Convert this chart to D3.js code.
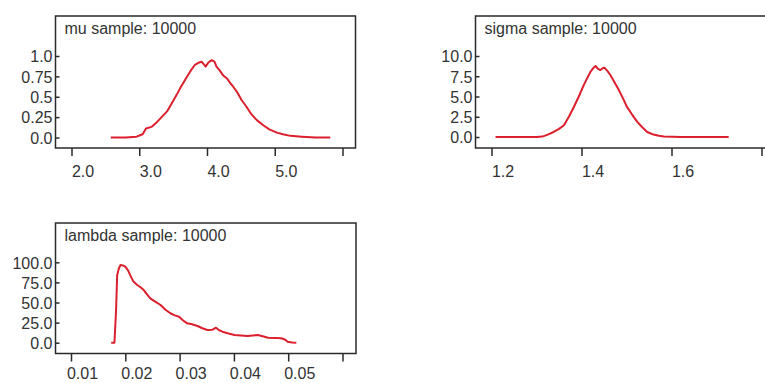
<!DOCTYPE html>
<html>
<head>
<meta charset="utf-8">
<script src="https://cdn.jsdelivr.net/npm/d3@7/dist/d3.min.js"></script>
<style>
  html, body { margin: 0; padding: 0; background: #fff; }
  svg { display: block; }
  .tick text { font-family: "Liberation Sans", Arial, sans-serif; fill: #333; }
</style>
</head>
<body>
<div id="chart"></div>
<script>
// WinBUGS-style posterior density panels, 3 nodes

// ---- data ----
const muX = [2.58, 2.80, 2.96, 3.05, 3.10, 3.18, 3.25, 3.33, 3.41, 3.48, 3.55, 3.62, 3.70, 3.76, 3.82, 3.88, 3.92, 3.96, 3.98, 4.02, 4.07, 4.11, 4.14, 4.19, 4.24, 4.30, 4.35, 4.39, 4.45, 4.51, 4.58, 4.66, 4.74, 4.83, 4.92, 5.03, 5.12, 5.23, 5.40, 5.60, 5.82];
const muY = [0, 0, 0.01, 0.04, 0.11, 0.13, 0.18, 0.25, 0.32, 0.42, 0.52, 0.63, 0.74, 0.82, 0.89, 0.92, 0.93, 0.89, 0.87, 0.92, 0.95, 0.93, 0.87, 0.82, 0.76, 0.72, 0.66, 0.62, 0.55, 0.46, 0.38, 0.28, 0.21, 0.15, 0.10, 0.06, 0.04, 0.02, 0.01, 0, 0];
const muXTicks = [2, 3, 4, 5, 6];
const muXLabels = ["2.0", "3.0", "4.0", "5.0", ""];
const muYTicks = [0, 0.25, 0.5, 0.75, 1.0];
const muYLabels = ["0.0", "0.25", "0.5", "0.75", "1.0"];

const sigmaX = [1.209, 1.25, 1.30, 1.313, 1.325, 1.338, 1.35, 1.361, 1.372, 1.383, 1.394, 1.405, 1.413, 1.42, 1.426, 1.431, 1.437, 1.442, 1.447, 1.451, 1.457, 1.464, 1.473, 1.483, 1.492, 1.501, 1.512, 1.524, 1.535, 1.546, 1.56, 1.572, 1.583, 1.62, 1.68, 1.727];
const sigmaY = [0, 0, 0, 0.05, 0.3, 0.62, 1.0, 1.45, 2.5, 3.7, 5.0, 6.4, 7.3, 8.05, 8.5, 8.76, 8.4, 8.26, 8.5, 8.55, 8.2, 7.65, 6.8, 5.79, 4.8, 3.72, 2.8, 1.86, 1.2, 0.62, 0.3, 0.15, 0.05, 0, 0, 0];
const sigmaXTicks = [1.2, 1.4, 1.6, 1.8];
const sigmaXLabels = ["1.2", "1.4", "1.6", ""];
const sigmaYTicks = [0, 2.5, 5, 7.5, 10];
const sigmaYLabels = ["0.0", "2.5", "5.0", "7.5", "10.0"];

const lambdaX = [0.0174, 0.0180, 0.0183, 0.0185, 0.0188, 0.0191, 0.0196, 0.0200, 0.0205, 0.0209, 0.0215, 0.0222, 0.0228, 0.0234, 0.0240, 0.0246, 0.0255, 0.0265, 0.0274, 0.0283, 0.0291, 0.0299, 0.0306, 0.0314, 0.0323, 0.0333, 0.0342, 0.0351, 0.0360, 0.0367, 0.0373, 0.0379, 0.0390, 0.0401, 0.0413, 0.0425, 0.0435, 0.0444, 0.0453, 0.0463, 0.0475, 0.0487, 0.0494, 0.0499, 0.0507, 0.0515];
const lambdaY = [0, 0, 40, 84, 92, 96.6, 96, 94.5, 90, 84, 76, 71.8, 69, 65.5, 60, 55.2, 51, 46.9, 41, 36.6, 34, 32.3, 28, 24.1, 23, 20.8, 18, 15.8, 16, 18.7, 15.5, 13.7, 11.5, 9.6, 9, 8.3, 9, 9.6, 8, 6.2, 6, 5.5, 4, 1.2, 0.3, 0];
const lambdaXTicks = [0.01, 0.02, 0.03, 0.04, 0.05, 0.06];
const lambdaXLabels = ["0.01", "0.02", "0.03", "0.04", "0.05", ""];
const lambdaYTicks = [0, 25, 50, 75, 100];
const lambdaYLabels = ["0.0", "25.0", "50.0", "75.0", "100.0"];

// ---- layout ----
const W = 765, H = 383;
const FONT = 16;
const LINE = "#dc1f2d";
const INK = "#2a2a2a";

const panels = [
  { title: "mu sample: 10000", xs: muX, ys: muY, xt: muXTicks, xl: muXLabels, yt: muYTicks, yl: muYLabels,
    box: [55.5, 16, 355.5, 148], xr: [71.5, 342.5], yr: [137.5, 56], lab: 29 },
  { title: "sigma sample: 10000", xs: sigmaX, ys: sigmaY, xt: sigmaXTicks, xl: sigmaXLabels, yt: sigmaYTicks, yl: sigmaYLabels,
    box: [475.5, 16, 775.5, 148], xr: [491.5, 761.5], yr: [137, 56], lab: 29 },
  { title: "lambda sample: 10000", xs: lambdaX, ys: lambdaY, xt: lambdaXTicks, xl: lambdaXLabels, yt: lambdaYTicks, yl: lambdaYLabels,
    box: [55.5, 223, 356, 353.5], xr: [71, 342.5], yr: [342.7, 262.3], lab: 25.5 }
];

const svg = d3.select("#chart").append("svg")
  .attr("width", W).attr("height", H)
  .attr("viewBox", [0, 0, W, H]);

function drawPanel(p) {
  const [bx0, by0, bx1, by1] = p.box;
  const x = d3.scaleLinear().domain([p.xt[0], p.xt[p.xt.length - 1]]).range(p.xr);
  const y = d3.scaleLinear().domain([p.yt[0], p.yt[p.yt.length - 1]]).range(p.yr);
  const g = svg.append("g");

  // frame
  g.append("rect")
    .attr("x", bx0).attr("y", by0)
    .attr("width", bx1 - bx0).attr("height", by1 - by0)
    .attr("fill", "none").attr("stroke", INK).attr("stroke-width", 1.5);

  // y axis: short ticks pointing inward, labels outside
  const ya = g.append("g").attr("transform", `translate(${bx0},0)`)
    .call(d3.axisLeft(y).tickValues(p.yt).tickFormat((d, i) => p.yl[i])
      .tickSizeInner(-4).tickSizeOuter(0).tickPadding(3));
  ya.select(".domain").remove();
  ya.selectAll(".tick line").attr("stroke", INK).attr("stroke-width", 1.5);
  ya.selectAll(".tick text").attr("font-size", FONT).attr("dy", "0.36em");

  // x axis below the frame
  const xa = g.append("g").attr("transform", `translate(0,${by1})`)
    .call(d3.axisBottom(x).tickValues(p.xt).tickFormat((d, i) => p.xl[i])
      .tickSizeInner(8).tickSizeOuter(0));
  xa.select(".domain").remove();
  xa.selectAll(".tick line").attr("stroke", INK).attr("stroke-width", 1.5);
  xa.selectAll(".tick text").attr("font-size", FONT)
    .attr("y", p.lab).attr("dy", 0).attr("dx", 11);

  // title inside the frame
  g.append("text")
    .attr("x", bx0 + 9).attr("y", by0 + 18)
    .attr("font-family", "Liberation Sans, Arial, sans-serif")
    .attr("font-size", FONT).attr("fill", "#333")
    .text(p.title);

  // density curve
  const pts = p.xs.map((v, i) => [v, p.ys[i]]);
  g.append("path")
    .datum(pts)
    .attr("fill", "none").attr("stroke", LINE).attr("stroke-width", 2)
    .attr("stroke-linejoin", "round")
    .attr("d", d3.line().x(d => x(d[0])).y(d => y(d[1])));
}

panels.forEach(drawPanel);
</script>
</body>
</html>
